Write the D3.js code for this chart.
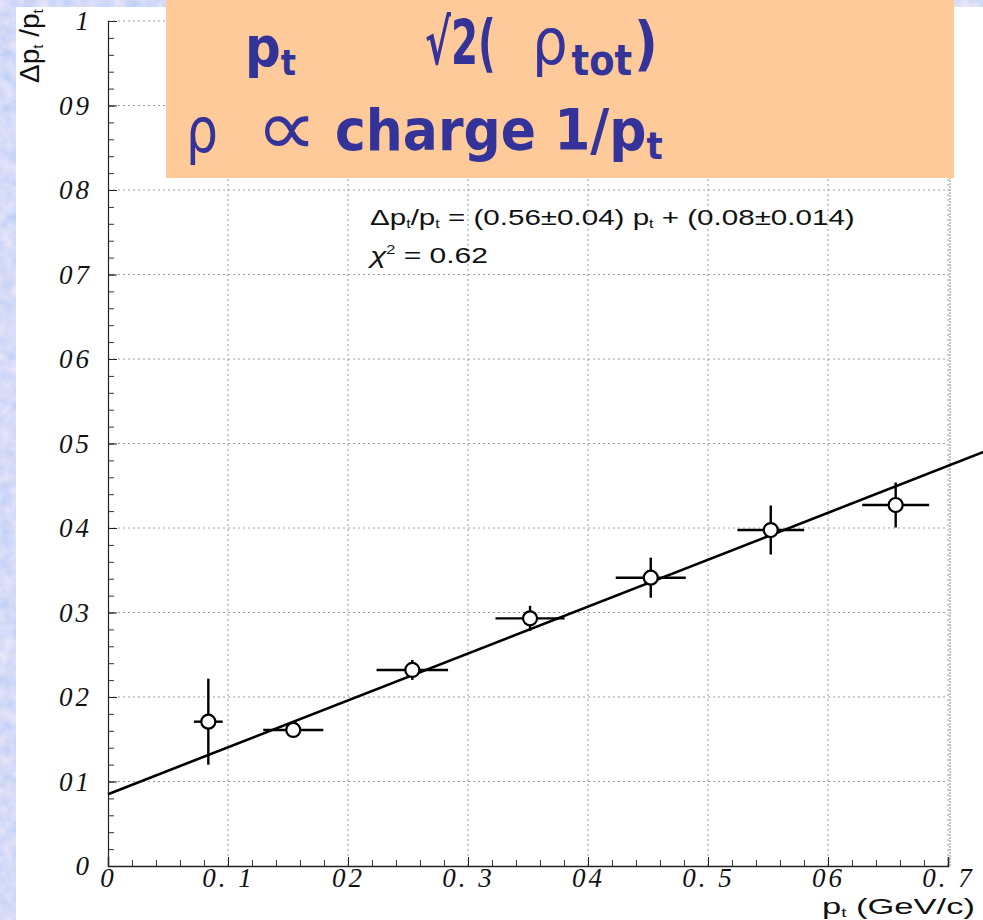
<!DOCTYPE html>
<html><head><meta charset="utf-8">
<script src="https://cdn.jsdelivr.net/npm/d3@7"></script>
<style>body{margin:0;padding:0;overflow:hidden;background:#fff}</style>
</head><body>
<script>
// ---- data ----
const ptValues   = [0.0836, 0.1544, 0.2536, 0.3517, 0.4523, 0.5523, 0.6564];
const resValues  = [0.1708, 0.161, 0.232, 0.2931, 0.3412, 0.3976, 0.4272];
const ptErrors   = [0.012, 0.025, 0.0298, 0.0288, 0.0292, 0.0278, 0.0279];
const resErrors  = [0.0509, 0.004, 0.0118, 0.0148, 0.0237, 0.029, 0.0266];
const fitSlope = 0.555, fitIntercept = 0.085;
const xTickValues = [0, 0.1, 0.2, 0.3, 0.4, 0.5, 0.6, 0.7];
const xTickLabels = ["0", "0. 1", "02", "0. 3", "04", "0. 5", "06", "0. 7"];
const yTickValues = [0, 0.1, 0.2, 0.3, 0.4, 0.5, 0.6, 0.7, 0.8, 0.9, 1];
const yTickLabels = ["0", "01", "02", "03", "04", "05", "06", "07", "08", "09", "1"];

const W = 983, H = 920;
const svg = d3.select("body").append("svg").attr("width", W).attr("height", H);
const defs = svg.append("defs");
const f = defs.append("filter").attr("id","tex").attr("x",0).attr("y",0).attr("width","100%").attr("height","100%");
f.append("feTurbulence").attr("type","fractalNoise").attr("baseFrequency","0.08").attr("numOctaves",3).attr("seed",4).attr("result","n");
f.append("feColorMatrix").attr("in","n").attr("type","matrix")
 .attr("values","0.55 0 0 0 0.45  0.3 0 0 0 0.6  0 0 0.15 0 0.88  0 0 0 0 1");

// background texture
svg.append("rect").attr("width",W).attr("height",H).attr("fill","#aabff0");
svg.append("rect").attr("width",W).attr("height",H).attr("filter","url(#tex)").attr("opacity",0.85);
// white panel
svg.append("rect").attr("x",16).attr("y",7).attr("width",W-16).attr("height",H-7).attr("fill","#fff");

const x = d3.scaleLinear().domain([0,0.7]).range([108,948]);
const y = d3.scaleLinear().domain([0,1]).range([866,21]);

// grid
const grid = svg.append("g").attr("stroke","#9a9a9a").attr("stroke-width",1).attr("stroke-dasharray","2,3");
grid.selectAll("line.v").data(xTickValues.slice(1)).join("line")
  .attr("x1",d=>x(d)).attr("x2",d=>x(d)).attr("y1",y(0)).attr("y2",y(1));
grid.selectAll("line.h").data(yTickValues.slice(1)).join("line")
  .attr("x1",x(0)).attr("x2",x(0.7)).attr("y1",d=>y(d)).attr("y2",d=>y(d));

// minor ticks
const minor = d3.range(0, 36).map(i => i/50);
const minorY = d3.range(0, 51).map(i => i/50);
svg.append("g").attr("transform",`translate(${x(0)},0)`)
  .call(d3.axisLeft(y).tickValues(minorY).tickSize(-6).tickFormat(""))
  .call(g=>{g.select(".domain").remove(); g.selectAll("line").attr("stroke","#333");});
svg.append("g").attr("transform",`translate(0,${y(0)})`)
  .call(d3.axisBottom(x).tickValues(minor).tickSize(-6).tickFormat(""))
  .call(g=>{g.select(".domain").remove(); g.selectAll("line").attr("stroke","#333");});

// major axes
const tickFont = "italic 27px 'Liberation Serif', 'DejaVu Serif', serif";
svg.append("g").attr("transform",`translate(${x(0)},0)`)
  .call(d3.axisLeft(y).tickValues(yTickValues).tickSize(-9).tickPadding(16)
        .tickFormat((d,i)=>yTickLabels[i]))
  .call(g=>{
    g.select(".domain").attr("stroke","#222").attr("stroke-width",1.2);
    g.selectAll("line").attr("stroke","#222");
    g.selectAll("text").style("font",tickFont).attr("fill","#111").attr("letter-spacing","3px");
  });
svg.append("g").attr("transform",`translate(0,${y(0)})`)
  .call(d3.axisBottom(x).tickValues(xTickValues).tickSize(-9).tickPadding(2)
        .tickFormat((d,i)=>xTickLabels[i]))
  .call(g=>{
    g.select(".domain").attr("stroke","#222").attr("stroke-width",1.5);
    g.selectAll("line").attr("stroke","#222");
    g.selectAll("text").style("font",tickFont).attr("fill","#111").attr("letter-spacing","3px");
  });
// right frame
svg.append("line").attr("x1",x(0.7)+2).attr("x2",x(0.7)+2).attr("y1",y(1)).attr("y2",y(0))
  .attr("stroke","#888").attr("stroke-dasharray","2,1");

// fit line
svg.append("path")
  .datum([0, 0.74])
  .attr("d", d3.line().x(d=>x(d)).y(d=>y(fitSlope*d+fitIntercept)))
  .attr("stroke","#000").attr("stroke-width",2.6).attr("fill","none");

// data points
const pts = ptValues.map((v,i)=>({x:v,y:resValues[i],ex:ptErrors[i],ey:resErrors[i]}));
const pg = svg.append("g").attr("stroke","#000").attr("stroke-width",2.4);
pg.selectAll("line.ex").data(pts).join("line")
  .attr("x1",d=>x(d.x-d.ex)).attr("x2",d=>x(d.x+d.ex)).attr("y1",d=>y(d.y)).attr("y2",d=>y(d.y));
pg.selectAll("line.ey").data(pts).join("line")
  .attr("x1",d=>x(d.x)).attr("x2",d=>x(d.x)).attr("y1",d=>y(d.y-d.ey)).attr("y2",d=>y(d.y+d.ey));
pg.selectAll("circle").data(pts).join("circle")
  .attr("cx",d=>x(d.x)).attr("cy",d=>y(d.y)).attr("r",7).attr("fill","#fff").attr("stroke-width",2.2);

// equation text
const eqFont = "'Liberation Sans', Arial, sans-serif";
function fitWidth(sel, w){ const n=sel.node(); const l=n.getComputedTextLength(); const xx=+sel.attr("x"), yy=+sel.attr("y");
  sel.attr("transform",`translate(${xx},${yy}) scale(${w/l},1) translate(${-xx},${-yy})`); }
const eq = svg.append("text").attr("x",370).attr("y",225).style("font-family",eqFont).style("font-size","22px").attr("fill","#111");
eq.append("tspan").text("Δp");
eq.append("tspan").text("t").style("font-size","12px").attr("dy",3);
eq.append("tspan").text("/p").attr("dy",-3);
eq.append("tspan").text("t").style("font-size","12px").attr("dy",3);
eq.append("tspan").text(" = (0.56±0.04) p").attr("dy",-3);
eq.append("tspan").text("t").style("font-size","12px").attr("dy",3);
eq.append("tspan").text(" + (0.08±0.014)").attr("dy",-3);
fitWidth(eq, 485);
const chi = svg.append("text").attr("x",370).attr("y",263).style("font-family",eqFont).style("font-size","22px").attr("fill","#111");
chi.append("tspan").text("χ").style("font-style","italic");
chi.append("tspan").text("2").style("font-size","12px").attr("dy",-9);
chi.append("tspan").text(" = 0.62").attr("dy",9);
fitWidth(chi, 118);

// axis titles
const yt = svg.append("text").attr("transform","translate(39,83) rotate(-90)")
  .style("font-family",eqFont).style("font-size","28px").attr("fill","#111");
yt.append("tspan").text("Δp");
yt.append("tspan").text("t").style("font-size","15px").attr("dy",4);
yt.append("tspan").text(" /p").attr("dy",-4);
yt.append("tspan").text("t").style("font-size","15px").attr("dy",4);

const xt = svg.append("text").attr("x",822).attr("y",914)
  .style("font-family",eqFont).style("font-size","22px").attr("fill","#111");
xt.append("tspan").text("p");
xt.append("tspan").text("t").style("font-size","12px").attr("dy",3);
xt.append("tspan").text(" (GeV/c)").attr("dy",-3);
fitWidth(xt, 153);

// orange box
svg.append("rect").attr("x",166).attr("y",0).attr("width",788).attr("height",178).attr("fill","#ffca99");
const boxFont = "'DejaVu Sans', sans-serif";
const blue = "#333399";
function bt(xx, yy, parts, sx, sy){
  const t = svg.append("text").attr("x",0).attr("y",0)
    .attr("transform",`translate(${xx},${yy}) scale(${sx||1},${sy||1})`)
    .style("font-family",boxFont).attr("fill",blue);
  parts.forEach(p=>{ const s=t.append("tspan").text(p.t).style("font-size",p.s+"px").style("font-weight",p.w||"bold").attr("dy",p.dy||0);
    if(p.dx) s.attr("dx",p.dx); });
  return t;
}
bt(245, 66, [{t:"p",s:50},{t:"t",s:32,dy:8}], 1, 1.12);
bt(425, 64, [{t:"√2(",s:54}], 0.72, 1.15);
bt(532, 64, [{t:"ρ",s:58,w:"normal"},{t:"tot",s:38,dy:10,dx:4},{t:")",s:54,dy:-10,dx:2}], 0.97, 1.1);
bt(186, 152, [{t:"ρ",s:56,w:"normal"}], 0.9, 1.1);
bt(256, 155, [{t:"∝",s:72,w:"normal"}], 1.2, 1.1);
bt(335, 150, [{t:"charge 1/p",s:52},{t:"t",s:34,dy:8}], 1, 1.1);
</script>
</body></html>
